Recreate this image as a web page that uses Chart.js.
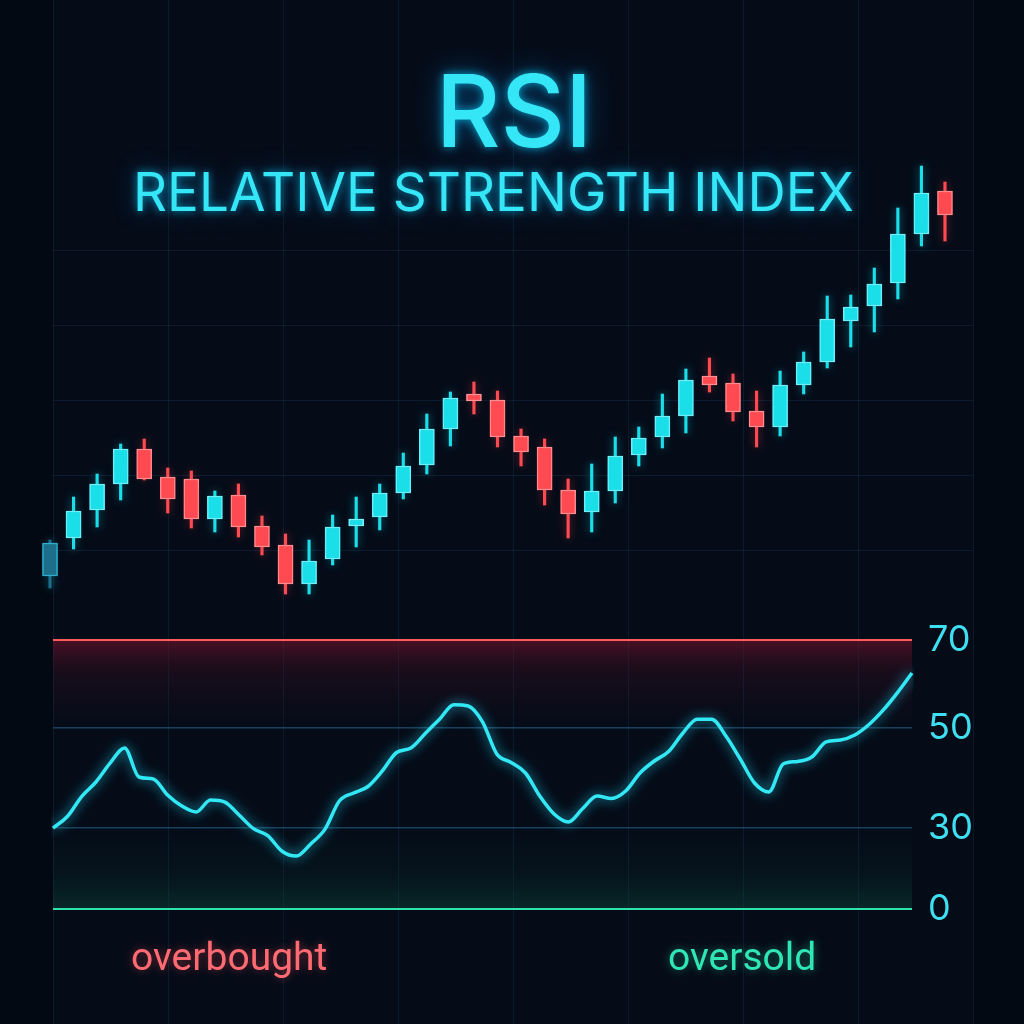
<!DOCTYPE html>
<html>
<head>
<meta charset="utf-8">
<script src="https://cdn.jsdelivr.net/npm/chart.js@4.4.1/dist/chart.umd.min.js"></script>
<style>
  html, body { margin: 0; padding: 0; background: #030912; width: 1024px; height: 1024px; overflow: hidden; }
  #stage { position: relative; width: 1024px; height: 1024px; }
  #priceCanvas { position: absolute; left: 0; top: 0; }
  #rsiCanvas { position: absolute; left: 0; top: 600px; }
  .txt { position: absolute; white-space: nowrap; line-height: 1; margin: 0; }
  #title { left: 0; width: 1028px; text-align: center; top: 50px; font: 500 100px Inter, sans-serif; color: #35e6f7;
           text-shadow: 0 0 10px rgba(0,210,255,0.75), 0 0 28px rgba(0,150,255,0.45); }
  #subtitle { left: 133px; top: 160px; font: 400 53px Inter, sans-serif; color: #35e6f7;
           text-shadow: 0 0 8px rgba(0,210,255,0.7), 0 0 24px rgba(0,150,255,0.4); }
  #ob { left: 131px; top: 934px; font: 400 39px Roboto, sans-serif; color: #ff6b72; text-shadow: 0 0 8px rgba(255,80,90,0.45); }
  #os { left: 668px; top: 934px; font: 400 39px Roboto, sans-serif; color: #2fe6b4; text-shadow: 0 0 8px rgba(40,230,180,0.45); }
</style>
</head>
<body>
<div id="stage">
  <canvas id="priceCanvas" width="1024" height="1024"></canvas>
  <canvas id="rsiCanvas" width="1024" height="340"></canvas>
  <div id="title" class="txt">RSI</div>
  <div id="subtitle" class="txt">RELATIVE STRENGTH INDEX</div>
  <div id="ob" class="txt">overbought</div>
  <div id="os" class="txt">oversold</div>
</div>
<script>
// ---------------- DATA ----------------
const opens  = [74,112,140,166,201,173,171,131,155,124,105,66,91,124,133,157,185,221,256,250,214,203,160,138,159,195,213,234,274,267,239,223,265,288,329,344,367,416,459];
const highs  = [110,153,176,206,211,182,179,159,166,134,116,110,135,153,166,197,236,258,268,259,221,211,171,186,213,223,256,281,292,276,259,279,298,354,355,382,442,484,468];
const lows   = [62,101,123,150,170,137,122,118,113,95,56,56,85,103,120,151,176,204,236,203,184,145,112,118,147,184,202,217,258,229,203,214,256,282,303,318,351,404,409];
const closes = [107,139,166,201,171,151,131,154,123,103,66,89,123,131,157,184,221,252,249,213,198,160,136,159,194,212,234,270,265,238,223,265,288,331,343,366,416,457,435];

const rsiValues = [30.0,32.3,36.3,39.2,43.0,46.0,40.2,39.8,36.6,34.4,33.2,35.6,35.2,32.6,29.8,27.2,21.4,19.6,24.1,29.6,
                   35.4,37.0,38.3,41.4,45.1,46.0,48.9,52.0,55.3,55.0,51.4,44.8,43.1,41.0,36.4,32.8,31.2,33.9,36.4,35.9,
                   37.4,41.0,43.4,45.3,49.0,52.0,52.0,48.4,43.8,39.0,37.2,42.8,43.3,44.2,47.2,47.6,48.6,50.8,54.1,58.1,62.5];
const rsiTicks = [0, 30, 50, 70];
const priceGridTicks = [100, 175, 250, 325, 400];

// ---------------- HELPERS ----------------
const candleIdx = opens.map((_, i) => i);
const upIdx = candleIdx.filter(i => closes[i] >= opens[i]);
const dnIdx = candleIdx.filter(i => closes[i] < opens[i]);
const bodies = list => list.map(i => ({ x: i, y: [opens[i], closes[i]] }));
const wicks  = list => list.map(i => ({ x: i, y: [lows[i], highs[i]] }));

const UP = '#1adfe9', UP_EDGE = '#86f3f8', DN = '#ff4a52', DN_EDGE = '#ff9c9e';
const DIM = '#1c6e8b', DIM_EDGE = '#3aa2c2';
const upFill = c => (c.raw && c.raw.x === 0) ? DIM : UP;
const upEdge = c => (c.raw && c.raw.x === 0) ? DIM_EDGE : UP_EDGE;
const GRID = 'rgba(35,75,105,0.26)';

const glowPlugin = {
  id: 'glow',
  beforeDatasetDraw(chart, args) {
    const ds = chart.data.datasets[args.index];
    if (ds.glowColor) {
      chart.ctx.save();
      chart.ctx.shadowColor = ds.glowColor;
      chart.ctx.shadowBlur = ds.glowBlur || 10;
    }
  },
  afterDatasetDraw(chart, args) {
    const ds = chart.data.datasets[args.index];
    if (ds.glowColor) chart.ctx.restore();
  }
};

const areaBg = {
  id: 'areaBg',
  beforeDraw(chart) {
    const { ctx, chartArea: a } = chart;
    ctx.save();
    ctx.fillStyle = '#050c18';
    ctx.fillRect(a.left, a.top, a.right - a.left, a.bottom - a.top);
    ctx.restore();
  }
};

// ---------------- PRICE (CANDLES) ----------------
new Chart(document.getElementById('priceCanvas'), {
  type: 'bar',
  data: {
    datasets: [
      { data: bodies(upIdx), backgroundColor: upFill, borderColor: upEdge, borderWidth: 1.5, borderSkipped: false,
        barThickness: 15, grouped: false, order: 0, clip: false, glowColor: 'rgba(0,225,255,0.65)', glowBlur: 14 },
      { data: bodies(dnIdx), backgroundColor: DN, borderColor: DN_EDGE, borderWidth: 1.5, borderSkipped: false,
        barThickness: 15, grouped: false, order: 0, clip: false, glowColor: 'rgba(255,60,70,0.6)', glowBlur: 14 },
      { data: wicks(upIdx), backgroundColor: upFill, borderWidth: 0, barThickness: 2.5, grouped: false, order: 1,
        clip: false, glowColor: 'rgba(0,225,255,0.5)', glowBlur: 8 },
      { data: wicks(dnIdx), backgroundColor: DN, borderWidth: 0, barThickness: 2.5, grouped: false, order: 1,
        clip: false, glowColor: 'rgba(255,60,70,0.5)', glowBlur: 8 }
    ]
  },
  options: {
    responsive: false,
    animation: false,
    layout: { padding: { left: 53, right: 51, top: 0, bottom: 0 } },
    plugins: { legend: { display: false }, tooltip: { enabled: false } },
    scales: {
      x: { type: 'linear', min: 0.127, max: 39.19, offset: false, display: false, grid: { offset: false } },
      xg: { type: 'linear', axis: 'x', position: 'bottom', min: 0, max: 8, offset: false,
            ticks: { display: false, stepSize: 1 },
            grid: { color: GRID, lineWidth: 1, drawTicks: false, offset: false },
            border: { display: false } },
      y: { type: 'linear', min: -374, max: 650,
           afterBuildTicks: s => { s.ticks = priceGridTicks.map(v => ({ value: v })); },
           afterFit: s => { s.width = 0; s.paddingTop = 0; s.paddingBottom = 0; },
           ticks: { display: false },
           grid: { color: GRID, lineWidth: 1, drawTicks: false },
           border: { display: false } }
    }
  },
  plugins: [areaBg, glowPlugin]
});

// ---------------- RSI ----------------
const BREAK_VALUES = [0, 30, 50, 70];
const BREAK_FRACS  = [0, 0.301, 0.673, 1];
function valueToFrac(v) {
  const n = BREAK_VALUES.length;
  let k = 0;
  while (k < n - 2 && v > BREAK_VALUES[k + 1]) k++;
  const v0 = BREAK_VALUES[k], v1 = BREAK_VALUES[k + 1], f0 = BREAK_FRACS[k], f1 = BREAK_FRACS[k + 1];
  return f0 + (v - v0) * (f1 - f0) / (v1 - v0);
}
function fracToValue(f) {
  const n = BREAK_FRACS.length;
  let k = 0;
  while (k < n - 2 && f > BREAK_FRACS[k + 1]) k++;
  const v0 = BREAK_VALUES[k], v1 = BREAK_VALUES[k + 1], f0 = BREAK_FRACS[k], f1 = BREAK_FRACS[k + 1];
  return v0 + (f - f0) * (v1 - v0) / (f1 - f0);
}
class PiecewiseScale extends Chart.LinearScale {
  getPixelForValue(value) {
    if (value === null || value === undefined || isNaN(value)) return NaN;
    return this.getPixelForDecimal(valueToFrac(value));
  }
  getValueForPixel(pixel) { return fracToValue(this.getDecimalForPixel(pixel)); }
}
PiecewiseScale.id = 'piecewise';
PiecewiseScale.defaults = Chart.LinearScale.defaults;
Chart.register(PiecewiseScale);

const zoneBg = {
  id: 'zoneBg',
  beforeDraw(chart) {
    const { ctx, chartArea: a, scales: { y } } = chart;
    const y70 = y.getPixelForValue(70), y50 = y.getPixelForValue(50), y30 = y.getPixelForValue(30), y0 = y.getPixelForValue(0);
    ctx.save();
    let g = ctx.createLinearGradient(0, y70, 0, y50);
    g.addColorStop(0, 'rgba(115,20,42,0.62)');
    g.addColorStop(0.35, 'rgba(80,16,38,0.28)');
    g.addColorStop(1, 'rgba(60,15,35,0)');
    ctx.fillStyle = g;
    ctx.fillRect(a.left, y70, a.right - a.left, y50 - y70);
    g = ctx.createLinearGradient(0, y30, 0, y0);
    g.addColorStop(0, 'rgba(10,70,60,0)');
    g.addColorStop(0.5, 'rgba(10,62,52,0.14)');
    g.addColorStop(1, 'rgba(12,78,64,0.42)');
    ctx.fillStyle = g;
    ctx.fillRect(a.left, y30, a.right - a.left, y0 - y30);
    ctx.restore();
  }
};

const lineColorFor = v => v === 70 ? '#ff5a60' : (v === 0 ? '#2fe3a8' : 'rgba(45,115,155,0.5)');

new Chart(document.getElementById('rsiCanvas'), {
  type: 'line',
  data: {
    labels: rsiValues.map((_, i) => String(i + 1)),
    datasets: [{
      data: rsiValues, borderColor: '#33e8f5', borderWidth: 3.5, pointRadius: 0, fill: false,
      cubicInterpolationMode: 'monotone', glowColor: 'rgba(30,220,255,0.85)', glowBlur: 12
    }]
  },
  options: {
    responsive: false,
    animation: false,
    layout: { padding: { left: 53, right: 0, top: 40, bottom: 31 } },
    plugins: { legend: { display: false }, tooltip: { enabled: false } },
    scales: {
      x: { type: 'category', display: false, offset: false },
      y: { type: 'piecewise', position: 'right', min: 0, max: 70,
           afterBuildTicks: s => { s.ticks = rsiTicks.map(v => ({ value: v })); },
           afterFit: s => { s.width = 112; s.paddingTop = 0; s.paddingBottom = 0; },
           ticks: { padding: 16, color: '#3fdff2', font: { family: 'Inter', size: 36, weight: 400 },
                    callback: v => String(v) },
           grid: { color: c => lineColorFor(c.tick && c.tick.value),
                   lineWidth: c => (c.tick && (c.tick.value === 70 || c.tick.value === 0)) ? 2 : 1.5,
                   drawTicks: false },
           border: { display: false } }
    }
  },
  plugins: [zoneBg, glowPlugin]
});
</script>
</body>
</html>
